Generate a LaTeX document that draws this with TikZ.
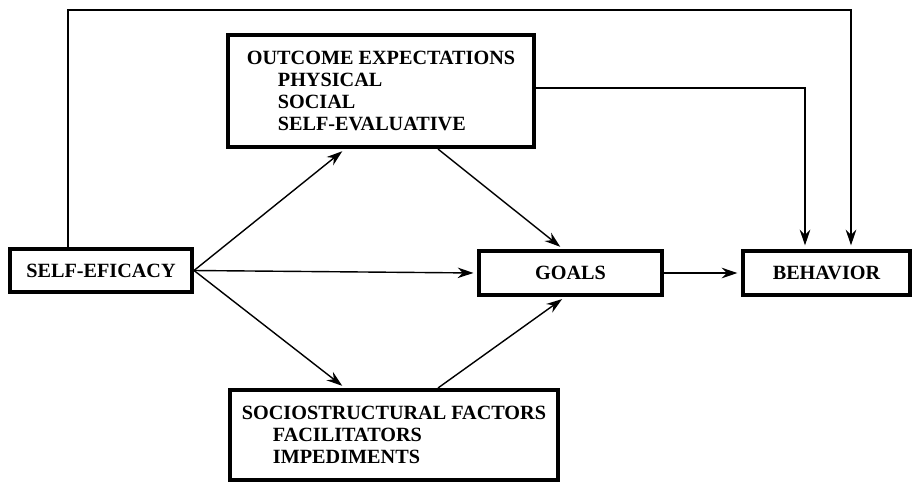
\documentclass[tikz,border=0pt]{standalone}
\usepackage{fontspec}
\setmainfont{Liberation Serif}
\usetikzlibrary{arrows.meta,calc}
\tikzset{
  factor/.style={draw,line width=2.3pt,align=left,inner sep=0pt,
    font=\bfseries\fontsize{11.5}{12.6}\selectfont},
  link/.style={line width=0.8pt,-{Stealth[length=9pt,width=6pt]},shorten >=2pt}
}
\newcommand{\ind}{\hspace*{0.62cm}}
\begin{document}
\begin{tikzpicture}
    \useasboundingbox (0,0) rectangle (18.26,-9.66);
    \node[factor,minimum width=3.64cm,minimum height=0.86cm] (selfeff) at (2.02,-5.41) {SELF-EFICACY};
    \node[factor,minimum width=6.12cm,minimum height=2.24cm] (outcome) at (7.62,-1.82)
        {OUTCOME EXPECTATIONS\\ \ind PHYSICAL\\ \ind SOCIAL\\ \ind SELF-EVALUATIVE};
    \node[factor,minimum width=3.66cm,minimum height=0.88cm] (goals) at (11.41,-5.46) {GOALS};
    \node[factor,minimum width=3.34cm,minimum height=0.88cm] (behavior) at (16.53,-5.46) {BEHAVIOR};
    \node[factor,minimum width=6.56cm,minimum height=1.8cm] (socio) at (7.88,-8.70)
        {SOCIOSTRUCTURAL FACTORS\\ \ind FACILITATORS\\ \ind IMPEDIMENTS};
    % long feedback lines to behavior
    \coordinate (topleft) at (1.36,-0.2);
    \coordinate (topright) at (17.02,-0.2);
    \coordinate (oright) at (16.1,-1.76);
    \draw[link] (selfeff.north -| topleft) -- (topleft) -- (topright) -- (behavior.north -| topright);
    \draw[link] (outcome.east |- oright) -- (oright) -- (behavior.north -| oright);
    % arrows out of self-efficacy
    \draw[link] (selfeff.east) -- ($(outcome.south)+(-0.72,0)$);
    \draw[link] (selfeff.east) -- (goals.west);
    \draw[link] (selfeff.east) -- ($(socio.north)+(-0.98,0)$);
    % into goals
    \draw[link] ($(outcome.south)+(1.14,0)$) -- ($(goals.north)+(-0.15,0)$);
    \draw[link] ($(socio.north)+(0.88,0)$) -- ($(goals.south)+(-0.11,0)$);
    \draw[link] (goals.east) -- (behavior.west);
\end{tikzpicture}
\end{document}
